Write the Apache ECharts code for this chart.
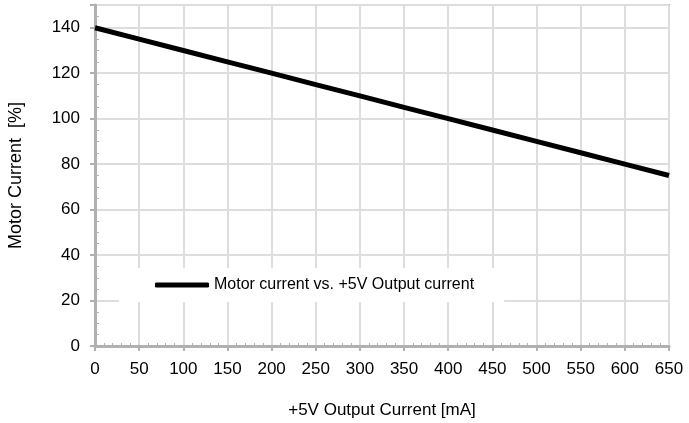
<!DOCTYPE html>
<html lang="en">
<head>
    <meta charset="UTF-8">
    <title>Motor current vs. +5V Output current</title>
    <script src="https://cdn.jsdelivr.net/npm/echarts@6/dist/echarts.min.js"></script>
    <style>
        html, body { margin: 0; padding: 0; background: #fff; }
    </style>
</head>
<body>
   <div id="main" style="width: 689px;height:423px;"></div>
   <script type="text/javascript">
       // data
       var outputCurrent = [0, 50, 100, 150, 200, 250, 300, 350, 400, 450, 500, 550, 600, 650];
       var motorCurrent = [140, 135, 130, 125, 120, 115, 110, 105, 100, 95, 90, 85, 80, 75];
       var seriesName = 'Motor current vs. +5V Output current';

       var points = [];
       for (var i = 0; i < outputCurrent.length; i++) {
           points.push([outputCurrent[i], motorCurrent[i]]);
       }

       var myChart = echarts.init(document.getElementById('main'));
       var font = 'Liberation Sans, Arial, sans-serif';

       var option = {
           animation: false,
           textStyle: { fontFamily: font },
           grid: {
               left: 95, right: 20, top: 5, bottom: 77,
               outerBoundsMode: 'none',
               show: true, borderColor: '#aaaaaa', borderWidth: 2
           },
           legend: {
               left: 119, top: 268,
               padding: [9, 30, 9, 36],
               backgroundColor: '#ffffff',
               itemWidth: 54, itemHeight: 5, itemGap: 4,
               textStyle: { fontSize: 16, color: '#000', fontFamily: font },
               data: [{ name: seriesName, icon: 'roundRect' }]
           },
           xAxis: {
               type: 'value',
               min: 0, max: 650, interval: 50,
               name: '+5V Output Current [mA]',
               nameLocation: 'middle', nameGap: 56,
               nameTextStyle: { fontSize: 17, color: '#000', fontFamily: font },
               axisLine: { lineStyle: { color: '#b0b0b0', width: 3 } },
               axisTick: { length: 5, lineStyle: { color: '#b0b0b0', width: 2 } },
               minorTick: { show: true, splitNumber: 5, length: -3, lineStyle: { color: '#b0b0b0' } },
               axisLabel: { fontSize: 17, color: '#000', margin: 15 },
               splitLine: { lineStyle: { color: '#dddddd', width: 2 } }
           },
           yAxis: {
               type: 'value',
               min: 0, max: 150, interval: 20,
               name: 'Motor Current  [%]',
               nameLocation: 'middle', nameGap: 70,
               nameTextStyle: { fontSize: 18, color: '#000', fontFamily: font },
               axisLine: { lineStyle: { color: '#b0b0b0', width: 3 } },
               axisTick: { length: 5, lineStyle: { color: '#b0b0b0', width: 2 } },
               minorTick: { show: true, splitNumber: 4, length: -4, lineStyle: { color: '#b0b0b0' } },
               axisLabel: { fontSize: 17, color: '#000', margin: 15, showMaxLabel: false },
               splitLine: { lineStyle: { color: '#dddddd', width: 2 } }
           },
           series: [{
               name: seriesName,
               type: 'line',
               data: points,
               showSymbol: false,
               lineStyle: { color: '#000', width: 5 },
               itemStyle: { color: '#000' }
           }]
       };

       myChart.setOption(option);
   </script>
</body>
</html>
